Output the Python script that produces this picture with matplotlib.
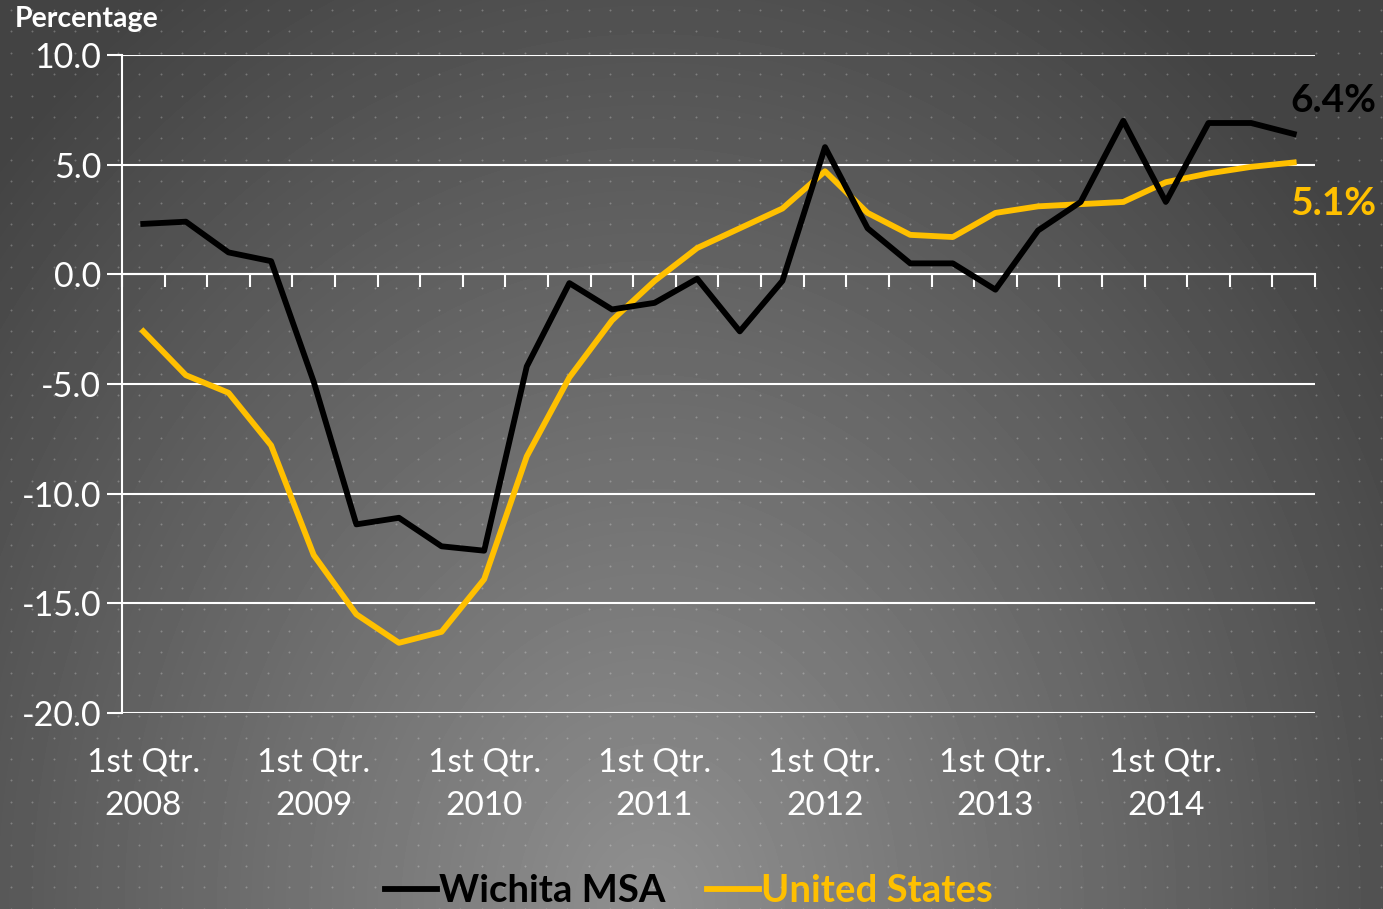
import numpy as np
import matplotlib
matplotlib.use("Agg")
from matplotlib import pyplot as plt
from matplotlib import transforms

plt.rcParams['font.family'] = ['Lato', 'DejaVu Sans']

# quarterly values, 1st Qtr 2008 .. 4th Qtr 2014
quarters = np.arange(28)
wichita = [2.3, 2.4, 1.0, 0.6, -4.9, -11.4, -11.1, -12.4, -12.6, -4.2,
           -0.4, -1.6, -1.3, -0.2, -2.6, -0.3, 5.8, 2.1, 0.5, 0.5,
           -0.7, 2.0, 3.3, 7.0, 3.3, 6.9, 6.9, 6.4]
us = [-2.6, -4.6, -5.4, -7.8, -12.8, -15.5, -16.8, -16.3, -13.9, -8.3,
      -4.7, -2.1, -0.3, 1.2, 2.1, 3.0, 4.7, 2.8, 1.8, 1.7,
      2.8, 3.1, 3.2, 3.3, 4.2, 4.6, 4.9, 5.1]
years = ["2008", "2009", "2010", "2011", "2012", "2013", "2014"]
yticks = [10.0, 5.0, 0.0, -5.0, -10.0, -15.0, -20.0]

GOLD = "#FFC000"
W, H = 1383, 909

fig = plt.figure(figsize=(W / 100, H / 100), dpi=100)

# background: radial grey gradient + dot pattern
bg = fig.add_axes([0, 0, 1, 1], zorder=-10)
yy, xx = np.mgrid[0:H, 0:W]
d = np.sqrt(((xx - 0.47 * W) / (0.64 * W)) ** 2 + ((yy - 1.0 * H) / (1.2 * H)) ** 2)
val = 0.565 - 0.30 * np.clip(d, 0, 1)
bg.imshow(val, cmap="gray", vmin=0, vmax=1, extent=[0, W, H, 0], aspect="auto",
          interpolation="bilinear")
dx, dy = np.meshgrid(np.arange(11, W, 21.4), np.arange(10, H, 21.4))
bg.scatter(dx.ravel(), dy.ravel(), s=2, color="white", alpha=0.25, linewidths=0)
bg.set_xlim(0, W)
bg.set_ylim(H, 0)
bg.axis("off")

ax = fig.add_axes([122 / W, 1 - 713 / H, (1315 - 122) / W, (713 - 55) / H])
ax.set_facecolor("none")

ax.plot(quarters, wichita, color="black", lw=4.2, label="Wichita MSA", zorder=4)
ax.plot(quarters, us, color=GOLD, lw=4.2, label="United States", zorder=3)

ax.set_xlim(-0.5, 27.5)
ax.set_ylim(-20, 10)
ax.set_yticks(yticks)
ax.set_yticklabels([f"{v:.1f}" for v in yticks], color="white", fontsize=24.5)
ax.grid(axis="y", color="white", lw=1.5)
ax.tick_params(axis="y", length=11, width=1.5, color="white", pad=4)

for s in ["top", "right"]:
    ax.spines[s].set_visible(False)
ax.spines["left"].set_color("white")
ax.spines["left"].set_linewidth(1.5)
ax.spines["bottom"].set_position(("data", 0))
ax.spines["bottom"].set_color("white")
ax.spines["bottom"].set_linewidth(1.5)
ax.set_xticks(np.arange(-0.5, 28, 1))
ax.set_xticklabels([])
ax.tick_params(axis="x", direction="out", length=9, width=1.5, color="white")

# year labels under the plot
tr = transforms.blended_transform_factory(ax.transData, ax.transAxes)
for i, yr in enumerate(years):
    ax.text(i * 4, -0.108, "1st Qtr.\n" + yr, transform=tr, ha="center", va="center",
            color="white", fontsize=24, linespacing=1.55)

fig.text(15 / W, 1 - 19 / H, "Percentage", color="white", fontsize=20.5,
         fontweight="bold", ha="left", va="center")

ax.annotate(f"{wichita[-1]}%", xy=(quarters[-1], wichita[-1]), xytext=(40, 33),
            textcoords="offset pixels", ha="center", va="center", color="black",
            fontsize=28, fontweight="bold", annotation_clip=False)
ax.annotate(f"{us[-1]}%", xy=(quarters[-1], us[-1]), xytext=(40, -41),
            textcoords="offset pixels", ha="center", va="center", color=GOLD,
            fontsize=28, fontweight="bold", annotation_clip=False)

leg = fig.legend(loc="lower center", bbox_to_anchor=(0.498, 0.0), ncol=2, frameon=False,
                 prop={"size": 27.5, "weight": "bold"}, labelcolor="linecolor",
                 handlelength=1.35, handletextpad=0.05, columnspacing=1.1,
                 borderpad=0.02, borderaxespad=0.0)

fig.savefig("out.png", dpi=100)
